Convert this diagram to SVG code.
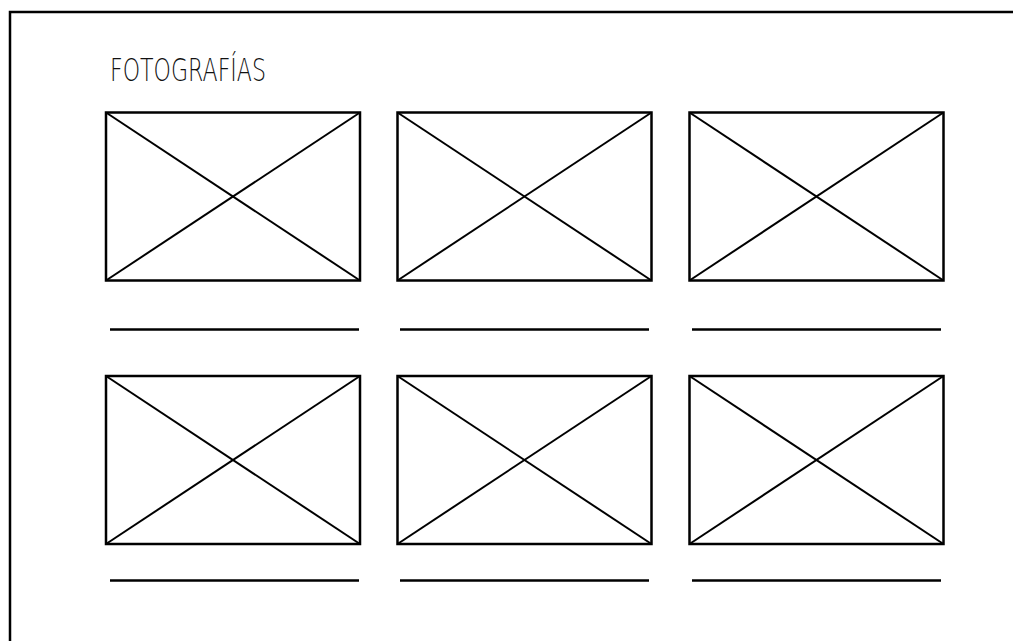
<svg xmlns="http://www.w3.org/2000/svg" width="1013" height="641" viewBox="0 0 1013 641">
<style>
.f{fill:none;stroke:#000;stroke-width:2.5}
.b{fill:#fff;stroke:#000;stroke-width:2.5}
.x{stroke:#000;stroke-width:2}
.u{stroke:#000;stroke-width:2.5}
.t{font-family:"DejaVu Sans","Liberation Sans",sans-serif;font-weight:200;font-size:32px;fill:#111}
</style>
<rect width="1013" height="641" fill="#fff"/>
<g id="frame"><path class="f" d="M10,645 V12 H1020"/></g>
<g id="title"><text class="t" x="110" y="80.5" textLength="156" lengthAdjust="spacingAndGlyphs">FOTOGRAFÍAS</text></g>
<defs>
<g id="ph">
<rect class="b" x="0" y="0" width="254" height="168"/>
<line class="x" x1="0" y1="0" x2="254" y2="168"/>
<line class="x" x1="254" y1="0" x2="0" y2="168"/>
</g>
</defs>
<g id="photo1"><use href="#ph" x="106" y="112.5"/><line class="u" x1="110" y1="329.5" x2="359" y2="329.5"/></g>
<g id="photo2"><use href="#ph" x="397.5" y="112.5"/><line class="u" x1="400" y1="329.5" x2="649" y2="329.5"/></g>
<g id="photo3"><use href="#ph" x="689.5" y="112.5"/><line class="u" x1="692" y1="329.5" x2="941" y2="329.5"/></g>
<g id="photo4"><use href="#ph" x="106" y="376"/><line class="u" x1="110" y1="580.5" x2="359" y2="580.5"/></g>
<g id="photo5"><use href="#ph" x="397.5" y="376"/><line class="u" x1="400" y1="580.5" x2="649" y2="580.5"/></g>
<g id="photo6"><use href="#ph" x="689.5" y="376"/><line class="u" x1="692" y1="580.5" x2="941" y2="580.5"/></g>
<g id="connectors"></g>
</svg>
